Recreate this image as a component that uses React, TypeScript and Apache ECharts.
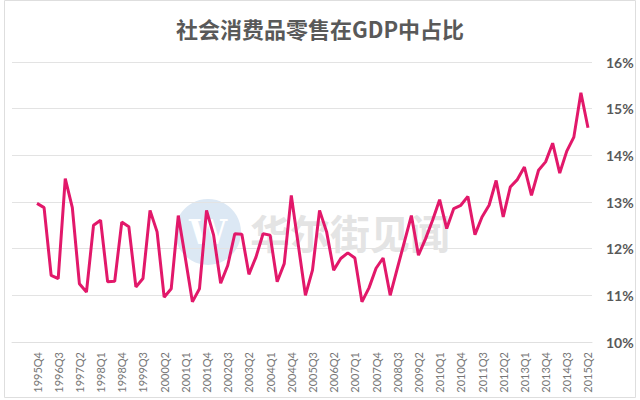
import React, { useEffect, useRef } from "react";
import * as echarts from "echarts";

const TITLE = "社会消费品零售在GDP中占比";

// Quarter labels from 1995Q4 to 2015Q2
const quarters: string[] = [];
for (let y = 1995; y <= 2015; y++) {
  for (let q = 1; q <= 4; q++) {
    if (y === 1995 && q < 4) continue;
    if (y === 2015 && q > 2) continue;
    quarters.push(`${y}Q${q}`);
  }
}

// Share of retail sales of consumer goods in GDP (%)
const shareValues: number[] = [
  12.97, 12.88, 11.43, 11.36, 13.5, 12.88, 11.25, 11.07, 12.5, 12.61,
  11.29, 11.3, 12.57, 12.47, 11.18, 11.36, 12.82, 12.36, 10.96, 11.14,
  12.71, 11.8, 10.86, 11.14, 12.82, 12.29, 11.26, 11.64, 12.32, 12.31,
  11.45, 11.82, 12.32, 12.29, 11.29, 11.68, 13.14, 12.07, 11.0, 11.54,
  12.82, 12.36, 11.54, 11.79, 11.91, 11.8, 10.86, 11.16, 11.58, 11.8,
  11.0, 11.57, 12.14, 12.71, 11.86, 12.21, 12.61, 13.05, 12.43, 12.86,
  12.93, 13.12, 12.3, 12.68, 12.93, 13.46, 12.68, 13.32, 13.48, 13.75,
  13.14, 13.68, 13.86, 14.26, 13.62, 14.09, 14.39, 15.34, 14.59,
];

// Labelled quarters: every third one
const labelIndices: number[] = quarters.map((_, i) => i).filter((i) => i % 3 === 0);

const yTicks = { min: 10, max: 16, interval: 1 };

export default function App() {
  const ref = useRef<HTMLDivElement>(null);
  useEffect(() => {
    if (!ref.current) return;
    const chart = echarts.init(ref.current, null, { renderer: "svg" });
    chart.setOption({
      animation: false,
      backgroundColor: "#ffffff",
      title: {
        text: TITLE,
        left: "center",
        top: 12,
        textStyle: {
          fontFamily: "Noto Sans CJK SC",
          fontSize: 22,
          fontWeight: "bold",
          color: "#595959",
        },
      },
      graphic: [
        {
          type: "rect",
          shape: { x: 4.5, y: 0.5, width: 631, height: 397 },
          style: { fill: "none", stroke: "#dedede", lineWidth: 1 },
          z: 0,
        },
        {
          type: "circle",
          shape: { cx: 208, cy: 232, r: 33 },
          style: { fill: "#dce8f4" },
          z: 0,
        },
        {
          type: "text",
          x: 208,
          y: 232,
          style: {
            text: "W",
            fill: "#ffffff",
            font: "bold 34px 'DejaVu Serif'",
            textAlign: "center",
            textVerticalAlign: "middle",
          },
          z: 0,
        },
        {
          type: "text",
          x: 250,
          y: 232,
          style: {
            text: "华尔街见闻",
            fill: "rgba(205,205,205,0.55)",
            font: "bold 40px 'Noto Sans CJK SC'",
            textAlign: "left",
            textVerticalAlign: "middle",
          },
          z: 0,
        },
      ],
      grid: { left: 12, right: 48, top: 62, bottom: 58 },
      xAxis: {
        type: "value",
        min: -3.54,
        max: 78.57,
        splitLine: { show: false },
        axisLine: { show: true, lineStyle: { color: "#e0e0e0", width: 1 } },
        axisTick: { show: false },
        axisLabel: {
          customValues: labelIndices,
          rotate: 90,
          margin: 10,
          fontFamily: "Lato",
          fontSize: 11,
          color: "#777777",
          formatter: (v: number) => quarters[Math.round(v)] ?? "",
        },
      },
      yAxis: {
        type: "value",
        position: "right",
        min: yTicks.min,
        max: yTicks.max,
        interval: yTicks.interval,
        axisLine: { show: false },
        axisTick: { show: false },
        splitLine: { lineStyle: { color: "#e3e3e3", width: 1 } },
        axisLabel: {
          margin: 14,
          fontFamily: "Lato",
          fontSize: 14,
          fontWeight: "bold",
          color: "#595959",
          formatter: "{value}%",
        },
      },
      series: [
        {
          type: "line",
          data: shareValues.map((v, i) => [i, v]),
          showSymbol: false,
          symbol: "none",
          lineStyle: { color: "#e2186a", width: 3 },
          z: 3,
        },
      ],
    });
    return () => chart.dispose();
  }, []);
  return (
    <div
      ref={ref}
      style={{ position: "fixed", left: 0, top: 0, width: 640, height: 400 }}
    />
  );
}
